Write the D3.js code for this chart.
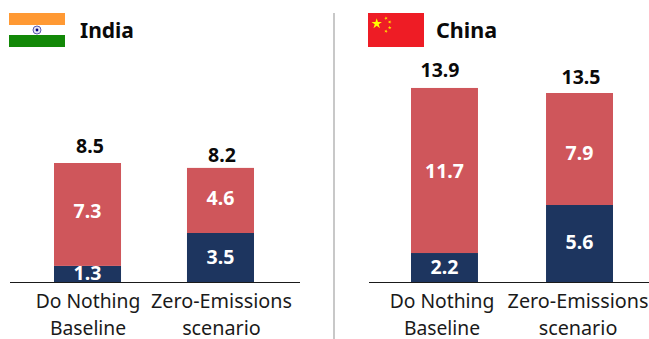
<!DOCTYPE html>
<html><head><meta charset="utf-8">
<script src="https://cdn.jsdelivr.net/npm/d3@7"></script>
<style>html,body{margin:0;background:#fff}svg{display:block}text{font-family:"Noto Sans",sans-serif}</style>
</head><body><svg id="c" width="649" height="339"></svg>
<script>
const categories = ["Do Nothing Baseline", "Zero-Emissions scenario"];
const tickLines = [["Do Nothing", "Baseline"], ["Zero-Emissions", "scenario"]];
const countries = ["India", "China"];
// bar segments
const indiaNavy = [1.15, 3.5];
const indiaRed = [7.35, 4.65];
const chinaNavy = [2.07, 5.5];
const chinaRed = [11.79, 8.0];
// numbers printed on the chart
const indiaNavyLabels = ["1.3", "3.5"];
const indiaRedLabels = ["7.3", "4.6"];
const indiaTotals = ["8.5", "8.2"];
const chinaNavyLabels = ["2.2", "5.6"];
const chinaRedLabels = ["11.7", "7.9"];
const chinaTotals = ["13.9", "13.5"];

const RED = "#CF565B", NAVY = "#1D355F";
const svg = d3.select("#c");
const y = d3.scaleLinear().domain([0, 14]).range([282, 86]);
const tickFontSizes = [19.3, 19.8];

const panels = [
 {name:countries[0], navy:indiaNavy, red:indiaRed, nl:indiaNavyLabels, rl:indiaRedLabels, tl:indiaTotals,
  band:[54,254], pad:0.496, axis:[10,300], totalX:[90,222], totalGap:[10.5,5.5], tickShift:[0.5,1], titleX:80, titleSize:21,
  redNudge:[3.5,4.5], navyNudge:[6.5,6.8]},
 {name:countries[1], navy:chinaNavy, red:chinaRed, nl:chinaNavyLabels, rl:chinaRedLabels, tl:chinaTotals,
  band:[411,613], pad:0.504, axis:[369,649], totalX:[440,581], totalGap:[11,9], tickShift:[-2.5,-1.5], titleX:436, titleSize:21.5,
  redNudge:[7.5,11], navyNudge:[6.5,5.8]}
];

panels.forEach(p => {
  const x = d3.scaleBand().domain(categories).range(p.band).paddingInner(p.pad).paddingOuter(0);
  const g = svg.append("g");
  const rows = categories.map((c,i) => ({c, i, navy:p.navy[i], red:p.red[i]}));
  const stack = d3.stack().keys(["navy","red"])(rows);
  const fills = {navy:NAVY, red:RED};
  stack.forEach(s => {
    g.selectAll(null).data(s).join("rect")
      .attr("x", d => x(d.data.c)).attr("width", x.bandwidth())
      .attr("y", d => y(d[1])).attr("height", d => y(d[0]) - y(d[1]))
      .attr("fill", fills[s.key]);
  });
  // axis
  const ax = d3.axisBottom(x).tickSize(0).tickPadding(0);
  const ag = g.append("g").attr("transform", "translate(0,282.5)").call(ax);
  ag.select(".domain").remove();
  g.append("line").attr("x1",p.axis[0]).attr("x2",p.axis[1]).attr("y1",282.5).attr("y2",282.5)
    .attr("stroke","#1a1a1a").attr("stroke-width",1);
  ag.selectAll(".tick text").each(function(d,i){
    const t = d3.select(this).text(null).attr("y",null).attr("dy",null)
      .attr("fill","#1a1a1a").attr("font-size",tickFontSizes[i]).attr("text-anchor","middle").style("font-family",'"Noto Sans",sans-serif');
    tickLines[i].forEach((l,j)=>t.append("tspan").attr("x",p.tickShift[i]).attr("y",25.5+j*26.5).text(l));
  });
  // values
  rows.forEach((r,i) => {
    const cx = x(r.c) + x.bandwidth()/2;
    const val = (txt, yc) => g.append("text").attr("x",cx).attr("y",yc).attr("text-anchor","middle")
      .attr("fill","#fff").attr("font-size",19.5).attr("font-weight",700).text(txt);
    val(p.rl[i], (y(r.navy)+y(r.navy+r.red))/2 + p.redNudge[i]);
    val(p.nl[i], (y(0)+y(r.navy))/2 + p.navyNudge[i]);
    g.append("text").attr("x",p.totalX[i]).attr("y",y(r.navy+r.red)-p.totalGap[i]).attr("text-anchor","middle")
      .attr("fill","#0a0a0a").attr("font-size",19.5).attr("font-weight",700).text(p.tl[i]);
  });
  g.append("text").attr("x",p.titleX).attr("y",38).attr("fill","#0a0a0a")
    .attr("font-size",p.titleSize).attr("font-weight",700).text(p.name);
});

// divider
svg.append("rect").attr("x",333).attr("y",13).attr("width",2).attr("height",326).attr("fill","#c8c8c8");

// India flag
const fi = svg.append("g").attr("transform","translate(9,13)");
fi.append("rect").attr("width",56).attr("height",12).attr("fill","#FF9933");
fi.append("rect").attr("y",12).attr("width",56).attr("height",10).attr("fill","#fff");
fi.append("rect").attr("y",22).attr("width",56).attr("height",12).attr("fill","#128807");
fi.append("circle").attr("cx",28).attr("cy",17).attr("r",4).attr("fill","#e4e4f4").attr("stroke","#5a5ab0").attr("stroke-width",1);
fi.append("circle").attr("cx",28).attr("cy",17).attr("r",1.4).attr("fill","#000080");

// China flag
const fc = svg.append("g").attr("transform","translate(368,13)");
fc.append("rect").attr("width",56).attr("height",34).attr("fill","#EE1C25");
const star = r => d3.symbol().type(d3.symbolStar).size(r)();
fc.append("path").attr("d",star(34)).attr("transform","translate(8.7,10.7)").attr("fill","#FFFF00");
[[18,5.3,-20],[21.7,9,20],[21.7,14.7,0],[18,18.3,20]].forEach(s=>
  fc.append("path").attr("d",star(4)).attr("transform",`translate(${s[0]},${s[1]}) rotate(${s[2]})`).attr("fill","#FFDD00"));
</script></body></html>
